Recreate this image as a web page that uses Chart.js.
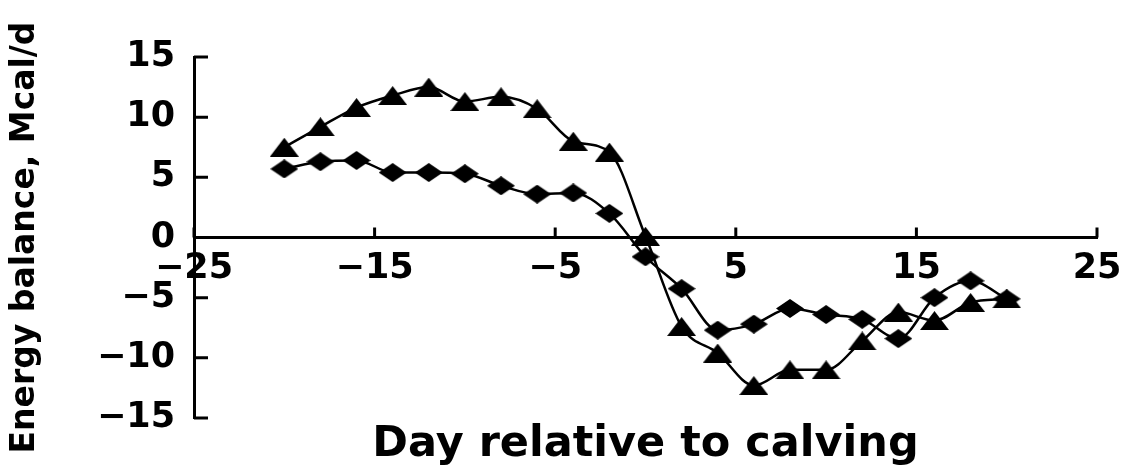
<!DOCTYPE html>
<html>
<head>
<meta charset="utf-8">
<script src="https://cdn.jsdelivr.net/npm/chart.js@4/dist/chart.umd.min.js"></script>
<style>
  html, body { margin: 0; padding: 0; background: #ffffff; }
  #wrap { width: 1139px; height: 466px; }
</style>
</head>
<body>
<div id="wrap"><canvas id="chart" width="1139" height="466"></canvas></div>
<script>
// Days relative to calving (every second day)
const days = [-20, -18, -16, -14, -12, -10, -8, -6, -4, -2, 0, 2, 4, 6, 8, 10, 12, 14, 16, 18, 20];

// Energy balance, Mcal/d
const triangleSeries = [7.5, 9.2, 10.8, 11.8, 12.5, 11.3, 11.7, 10.7, 8.0, 7.1, 0.1, -7.4, -9.6, -12.3, -11.0, -11.0, -8.6, -6.2, -6.9, -5.4, -5.1];
const diamondSeries  = [5.7, 6.3, 6.4, 5.4, 5.4, 5.3, 4.3, 3.6, 3.7, 2.0, -1.6, -4.25, -7.7, -7.2, -5.9, -6.4, -6.8, -8.4, -5.0, -3.6, -5.1];

// Axis tick values
const xTickValues = [-25, -15, -5, 5, 15, 25];
const yTickValues = [-15, -10, -5, 0, 5, 10, 15];

const xTitle = 'Day relative to calving';
const yTitle = 'Energy balance, Mcal/d';

// Solid black marker shapes
function makeTriangle(w, h) {
  const c = document.createElement('canvas');
  c.width = w; c.height = h;
  const g = c.getContext('2d');
  g.fillStyle = '#000';
  g.beginPath();
  g.moveTo(w / 2, 0);
  g.lineTo(w, h);
  g.lineTo(0, h);
  g.closePath();
  g.fill();
  return c;
}
function makeDiamond(w, h) {
  const c = document.createElement('canvas');
  c.width = w; c.height = h;
  const g = c.getContext('2d');
  g.fillStyle = '#000';
  g.beginPath();
  g.moveTo(w / 2, 0);
  g.lineTo(w, h / 2);
  g.lineTo(w / 2, h);
  g.lineTo(0, h / 2);
  g.closePath();
  g.fill();
  return c;
}

const minus = v => String(v).replace('-', '\u2212');
const FONT = "'DejaVu Sans', sans-serif";

// Inward tick marks on both axes
const inwardTicks = {
  id: 'inwardTicks',
  beforeDatasetsDraw(chart) {
    const { ctx, chartArea, scales } = chart;
    const xs = scales.x, ys = scales.y;
    const y0 = ys.getPixelForValue(0);
    ctx.save();
    ctx.strokeStyle = '#000';
    ctx.lineWidth = 3;
    ctx.beginPath();
    ys.ticks.forEach(t => {
      const py = ys.getPixelForValue(t.value);
      ctx.moveTo(chartArea.left, py);
      ctx.lineTo(chartArea.left + 14, py);
    });
    xs.ticks.forEach(t => {
      const px = xs.getPixelForValue(t.value);
      ctx.moveTo(px, y0);
      ctx.lineTo(px, y0 - 10);
    });
    ctx.stroke();
    ctx.restore();
  }
};

const lineStyle = {
  borderColor: '#000',
  borderWidth: 2.5,
  cubicInterpolationMode: 'monotone',
  pointRadius: 10,
  pointHoverRadius: 10
};

new Chart(document.getElementById('chart'), {
  type: 'line',
  data: {
    labels: days,
    datasets: [
      Object.assign({ data: triangleSeries, pointStyle: makeTriangle(29, 19) }, lineStyle),
      Object.assign({ data: diamondSeries, pointStyle: makeDiamond(28, 19) }, lineStyle)
    ]
  },
  options: {
    responsive: false,
    devicePixelRatio: 1,
    animation: false,
    events: [],
    layout: { padding: { left: 0, top: 57, right: 42, bottom: 0 } },
    plugins: {
      legend: { display: false },
      tooltip: { enabled: false }
    },
    scales: {
      x: {
        type: 'linear',
        position: { y: 0 },
        min: -25,
        max: 25,
        afterBuildTicks: s => { s.ticks = xTickValues.map(v => ({ value: v })); },
        grid: { display: true, drawOnChartArea: false, drawTicks: false },
        border: { display: true, color: '#000', width: 3 },
        ticks: {
          color: '#000',
          padding: 10,
          maxRotation: 0,
          autoSkip: false,
          font: { family: FONT, size: 35, weight: 'bold' },
          callback: v => minus(v)
        }
      },
      // bottom axis carrying only the x title
      xTitleAxis: {
        type: 'linear',
        axis: 'x',
        position: 'bottom',
        min: -25,
        max: 25,
        grid: { display: false, drawTicks: false },
        border: { display: false },
        ticks: { display: false },
        title: {
          display: true,
          text: xTitle,
          color: '#000',
          font: { family: FONT, size: 43, weight: 'bold', lineHeight: 1 },
          padding: { top: 5, bottom: 0 }
        }
      },
      y: {
        type: 'linear',
        min: -15,
        max: 15,
        afterBuildTicks: s => { s.ticks = yTickValues.map(v => ({ value: v })); },
        afterFit: s => { s.width = 194; },
        grid: { display: true, drawOnChartArea: false, drawTicks: false },
        border: { display: true, color: '#000', width: 3 },
        ticks: {
          color: '#000',
          padding: 19,
          font: { family: FONT, size: 35, weight: 'bold' },
          callback: v => minus(v)
        },
        title: {
          display: true,
          text: yTitle,
          color: '#000',
          font: { family: FONT, size: 33, weight: 'bold', lineHeight: 1 },
          padding: { top: 9, bottom: 0 }
        }
      }
    }
  },
  plugins: [inwardTicks]
});
</script>
</body>
</html>
